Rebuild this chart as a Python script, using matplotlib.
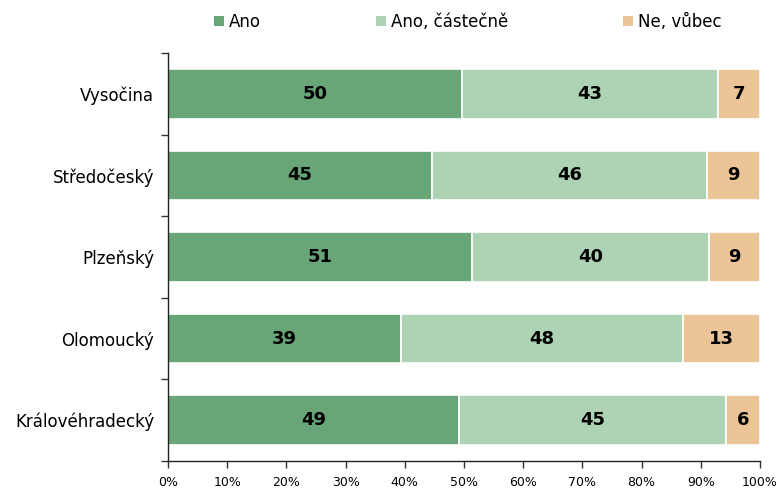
import matplotlib
matplotlib.use("Agg")
import matplotlib.pyplot as plt
import numpy as np
from matplotlib.patches import Patch

regions = ["Vysočina", "Středočeský", "Plzeňský", "Olomoucký", "Královéhradecký"]
ano = [49.7, 44.6, 51.4, 39.4, 49.2]
ano_castecne = [43.2, 46.4, 40.0, 47.6, 45.1]
ne_vubec = [7.1, 9.0, 8.6, 13.0, 5.7]
series_names = ["Ano", "Ano, částečně", "Ne, vůbec"]
colors = ["#68A677", "#AED3B4", "#EBC497"]
x_ticks = list(range(0, 101, 10))

plt.rcParams["font.family"] = ["DejaVu Sans"]

fig = plt.figure(figsize=(7.78, 4.88), dpi=100)
ax = fig.add_axes([168 / 778, 1 - 461 / 488, (760 - 168) / 778, (461 - 53) / 488])

y = np.arange(len(regions))
left = np.zeros(len(regions))
for vals, col in zip([ano, ano_castecne, ne_vubec], colors):
    vals = np.array(vals)
    bars = ax.barh(y, vals, left=left, height=0.61, color=col,
                   edgecolor="white", linewidth=1.2)
    for b, v in zip(bars, vals):
        ax.text(b.get_x() + b.get_width() / 2, b.get_y() + b.get_height() / 2,
                f"{v:.0f}", ha="center", va="center", fontsize=13,
                fontweight="bold", color="black")
    left += vals

ax.set_xlim(0, 100)
ax.set_ylim(len(regions) - 0.5, -0.5)
ax.set_xticks(x_ticks)
ax.set_xticklabels([f"{t}%" for t in x_ticks], fontsize=9)
ax.set_yticks(y)
ax.set_yticklabels(regions, fontsize=12)
ax.tick_params(axis="y", length=0, pad=10)
ax.set_yticks(np.arange(-0.5, len(regions)), minor=True)
ax.tick_params(axis="y", which="minor", length=5, width=1, color="#333333")
ax.tick_params(axis="x", length=5, width=1, color="#333333", pad=6)
for s in ["top", "right"]:
    ax.spines[s].set_visible(False)
for s in ["left", "bottom"]:
    ax.spines[s].set_color("#222222")
    ax.spines[s].set_linewidth(1)

handles = [Patch(facecolor=c, edgecolor="none") for c in colors]
fig.legend(handles, series_names, loc="center", bbox_to_anchor=(468 / 778, 1 - 22 / 488),
           ncol=3, frameon=False, fontsize=12, handlelength=0.6, handleheight=0.6,
           handletextpad=0.3, columnspacing=6.9)

fig.savefig("out.png", dpi=100)
